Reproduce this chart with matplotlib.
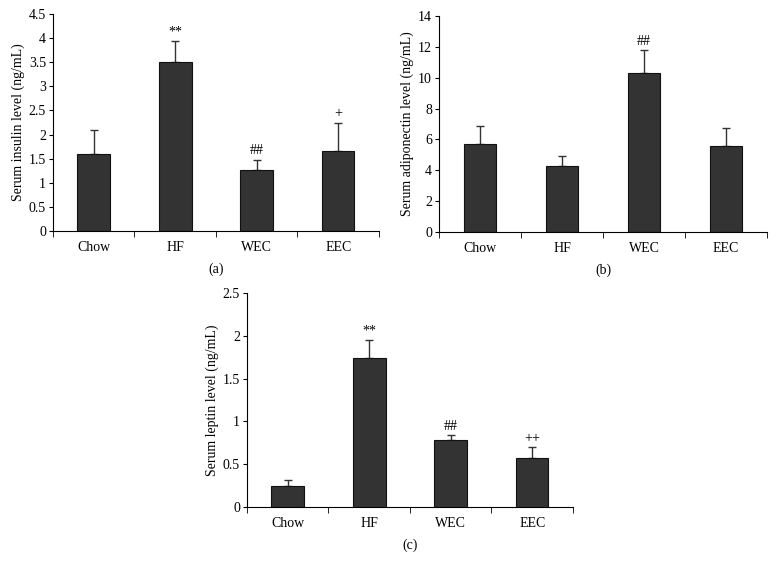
import matplotlib.pyplot as plt
import matplotlib.ticker as mticker
import numpy as np

plt.rcParams['font.family'] = ['Liberation Serif', 'DejaVu Serif']
plt.rcParams['font.size'] = 10

groups = ['Chow', 'HF', 'WEC', 'EEC']

insulin = [1.6, 3.5, 1.27, 1.65]
insulin_top = [2.1, 3.95, 1.48, 2.25]
insulin_marks = ['', '**', '##', '+']

adipo = [5.7, 4.3, 10.3, 5.6]
adipo_top = [6.85, 4.95, 11.8, 6.75]
adipo_marks = ['', '', '##', '']

leptin = [0.25, 1.74, 0.78, 0.57]
leptin_top = [0.31, 1.95, 0.84, 0.70]
leptin_marks = ['', '**', '##', '++']


def panel(ax, vals, tops, marks, ylim, ystep, ylabel, letter):
    x = np.arange(len(groups))
    err = [t - v for t, v in zip(tops, vals)]
    ax.bar(x, vals, width=0.4, color='#333333', edgecolor='#111111', linewidth=0.8, zorder=2)
    ax.errorbar(x, vals, yerr=[[0] * len(vals), err], fmt='none', ecolor='#333333',
                elinewidth=1, capsize=3, capthick=1, zorder=1)
    for xi, t, m in zip(x, tops, marks):
        if m:
            ax.text(xi, t + ylim * 0.01, m, ha='center', va='bottom', fontsize=10)
    ax.set_xlim(-0.5, len(groups) - 0.5)
    ax.set_ylim(0, ylim)
    ax.set_yticks(np.arange(0, ylim + ystep / 2, ystep))
    ax.yaxis.set_major_formatter(mticker.FormatStrFormatter('%g'))
    ax.set_xticks(x)
    ax.set_xticklabels(groups)
    ax.tick_params(axis='x', length=0, pad=7)
    ax.set_xticks(np.arange(-0.5, len(groups)), minor=True)
    ax.tick_params(axis='x', which='minor', length=4, direction='out')
    ax.tick_params(axis='y', length=3, direction='out', pad=2)
    for s in ['top', 'right']:
        ax.spines[s].set_visible(False)
    ax.set_ylabel(ylabel, labelpad=3)
    ax.text(0.5, -0.145, letter, transform=ax.transAxes, ha='center', va='top', fontsize=10)


fig = plt.figure(figsize=(7.76, 5.70), dpi=100)
ax1 = fig.add_axes([0.0683, 0.5947, 0.420, 0.3807])
ax2 = fig.add_axes([0.5657, 0.593, 0.4227, 0.379])
ax3 = fig.add_axes([0.3183, 0.1105, 0.420, 0.3754])

panel(ax1, insulin, insulin_top, insulin_marks, 4.5, 0.5, 'Serum insulin level (ng/mL)', '(a)')
panel(ax2, adipo, adipo_top, adipo_marks, 14, 2, 'Serum adiponectin level (ng/mL)', '(b)')
panel(ax3, leptin, leptin_top, leptin_marks, 2.5, 0.5, 'Serum leptin level (ng/mL)', '(c)')

fig.savefig('out.png', dpi=100)
